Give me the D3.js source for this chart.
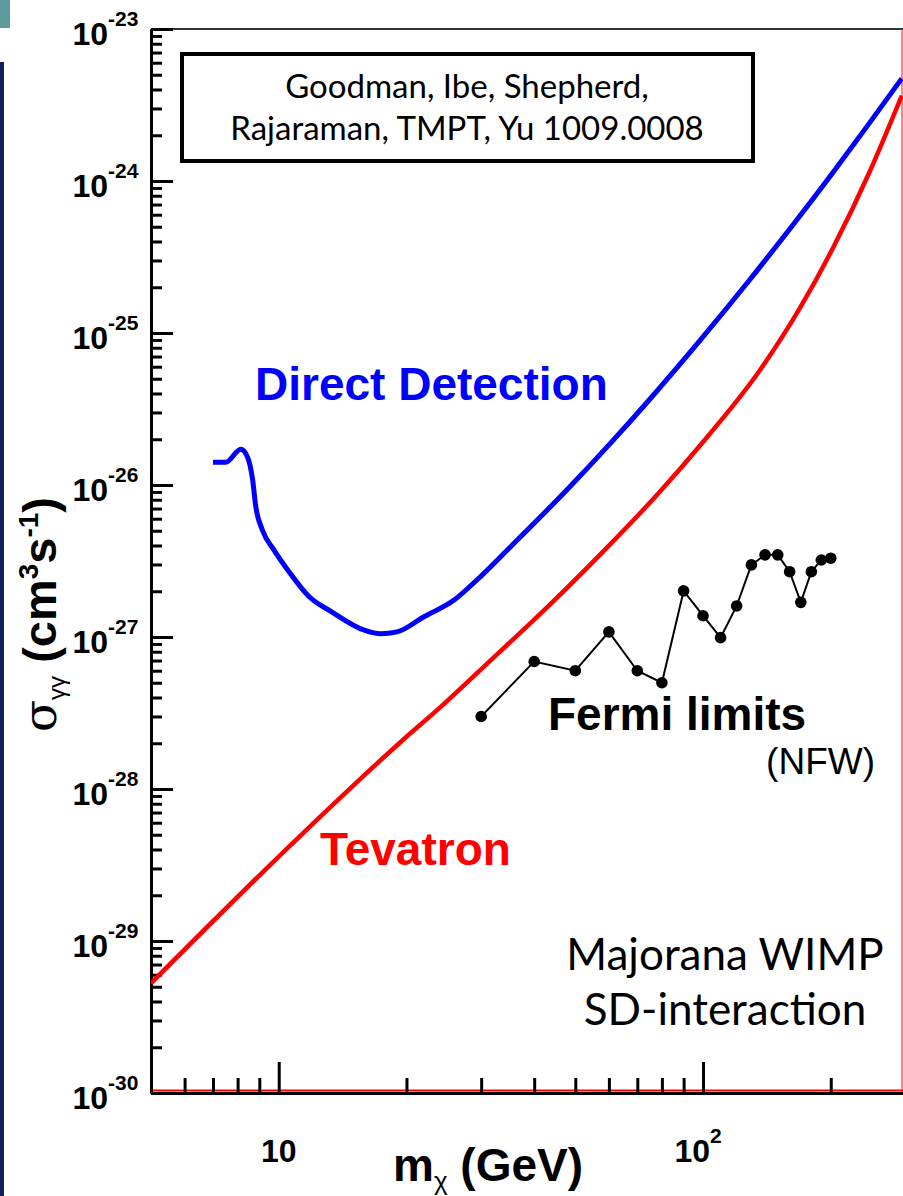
<!DOCTYPE html>
<html>
<head>
<meta charset="utf-8">
<script src="https://cdn.jsdelivr.net/npm/d3@7"></script>
<style>
  body { margin: 0; background: #fff; }
  svg { display: block; }
  .bold { font-family: "Liberation Sans", Arial, sans-serif; font-weight: bold; }
  .gill { font-family: Lato, "Open Sans", sans-serif; }
</style>
</head>
<body>
<div id="chart"></div>
<script>
// Data ======================================================
// Direct detection curve (blue)
var massBlue = [7.0, 7.5, 8.14, 8.44, 8.68, 8.83, 9.15, 9.75, 10.5, 11.8, 13.3, 15.9, 17.4, 19.0, 22.0, 25.9, 29.3, 35.2, 47.8, 60.4, 75, 98.4, 129, 163, 202, 243, 294];
var sigmaBlue = [1.41e-26, 1.41e-26, 1.72e-26, 1.53e-26, 1.08e-26, 7.2e-27, 5.06e-27, 3.73e-27, 2.76e-27, 1.84e-27, 1.47e-27, 1.11e-27, 1.05e-27, 1.08e-27, 1.36e-27, 1.75e-27, 2.37e-27, 3.93e-27, 9.3e-27, 1.87e-26, 3.68e-26, 8.94e-26, 2.25e-25, 5.15e-25, 1.13e-24, 2.27e-24, 4.72e-24];

// Tevatron curve (red)
var massRed = [5.0, 11.1, 19.5, 24.6, 29.5, 35.3, 39.9, 57.2, 79.2, 98.4, 136, 169, 203, 247, 294];
var sigmaRed = [5.27e-30, 4.76e-29, 2.07e-28, 3.66e-28, 5.87e-28, 9.38e-28, 1.29e-27, 3.48e-27, 9.05e-27, 1.82e-26, 5.66e-26, 1.45e-25, 3.68e-25, 1.15e-24, 3.64e-24];

// Fermi limits (NFW)
var massFermi = [30, 40, 50, 60, 70, 80, 90, 100, 110, 120, 130, 140, 150, 160, 170, 180, 190, 200];
var sigmaFermi = [3.0e-28, 6.9e-28, 6.0e-28, 1.08e-27, 6.0e-28, 5.0e-28, 2.01e-27, 1.38e-27, 9.9e-28, 1.6e-27, 2.98e-27, 3.47e-27, 3.47e-27, 2.69e-27, 1.69e-27, 2.69e-27, 3.21e-27, 3.30e-27];

// Tick values
var yMajorExp = [-30, -29, -28, -27, -26, -25, -24, -23];
var yMinorMult = [2, 3, 4, 5, 6, 7, 8, 9];
var xMajorTicks = [10, 100];
var xMajorLabels = [["10", ""], ["10", "2"]];
var xMinorTicks = [6, 7, 8, 9, 20, 30, 40, 50, 60, 70, 80, 90, 200];

// Canvas ======================================================
var width = 903;
var height = 1196;

// plot area edges
var plotLeft = 151, plotRight = 903, plotTop = 29, plotBottom = 1093;

var svg = d3.select("#chart")
    .append("svg")
    .attr("width", width)
    .attr("height", height);

// slide decoration on the left edge
svg.append("rect").attr("x", 0).attr("y", 0).attr("width", 10).attr("height", 28).attr("fill", "#5e9c9c");
svg.append("rect").attr("x", 0).attr("y", 62).attr("width", 4).attr("height", height - 62).attr("fill", "#0c1f5e");

// Scales
var xScale = d3.scaleLog().domain([5, 296]).range([plotLeft, plotRight]);
var yScale = d3.scaleLog().domain([1e-30, 1e-23]).range([plotBottom, plotTop]);

// frame lines (top grey, right and bottom red)
svg.append("line")
    .attr("x1", plotLeft).attr("x2", plotRight).attr("y1", plotTop).attr("y2", plotTop)
    .attr("stroke", "#333").attr("stroke-width", 2);
svg.append("line")
    .attr("x1", plotRight - 1).attr("x2", plotRight - 1).attr("y1", plotTop).attr("y2", plotBottom)
    .attr("stroke", "#ff3333").attr("stroke-width", 1.2);
svg.append("line")
    .attr("x1", plotLeft).attr("x2", plotRight).attr("y1", plotBottom - 2.5).attr("y2", plotBottom - 2.5)
    .attr("stroke", "#ff0000").attr("stroke-width", 2);

// Axes ========================================================
var yMinorTicks = [];
yMajorExp.slice(0, -1).forEach(function(e) {
  yMinorMult.forEach(function(k) { yMinorTicks.push(k * Math.pow(10, e)); });
});
var yMajorTicks = yMajorExp.map(function(e) { return Math.pow(10, e); });

function styleAxis(g) {
  g.selectAll("path").attr("stroke", "#000").attr("stroke-width", 3);
  g.selectAll("line").attr("stroke", "#000").attr("stroke-width", 3);
}

// y axis, ticks inward
svg.append("g")
    .attr("transform", `translate(${plotLeft}, 0)`)
    .call(d3.axisRight(yScale).tickValues(yMinorTicks).tickSize(11).tickSizeOuter(0).tickFormat(""))
    .call(styleAxis);
svg.append("g")
    .attr("transform", `translate(${plotLeft}, 0)`)
    .call(d3.axisRight(yScale).tickValues(yMajorTicks).tickSize(22).tickSizeOuter(0).tickFormat(""))
    .call(styleAxis);

// x axis at bottom, ticks pointing up
svg.append("g")
    .attr("transform", `translate(0, ${plotBottom})`)
    .call(d3.axisTop(xScale).tickValues(xMinorTicks).tickSize(15).tickSizeOuter(0).tickFormat(""))
    .call(styleAxis);
svg.append("g")
    .attr("transform", `translate(0, ${plotBottom})`)
    .call(d3.axisTop(xScale).tickValues(xMajorTicks).tickSize(31).tickSizeOuter(0).tickFormat(""))
    .call(styleAxis);

// y tick labels 10^e
yMajorExp.forEach(function(e) {
  var y = yScale(Math.pow(10, e));
  svg.append("text").attr("class", "bold")
      .attr("x", 108).attr("y", y + 16)
      .attr("text-anchor", "end").attr("font-size", 32)
      .text("10");
  svg.append("text").attr("class", "bold")
      .attr("x", 108).attr("y", y - 3)
      .attr("font-size", 21)
      .text(e);
});

// x tick labels
xMajorTicks.forEach(function(v, i) {
  var x = xScale(v);
  var lab = xMajorLabels[i];
  if (lab[1] === "") {
    svg.append("text").attr("class", "bold")
        .attr("x", x).attr("y", 1162)
        .attr("text-anchor", "middle").attr("font-size", 32)
        .text(lab[0]);
  } else {
    svg.append("text").attr("class", "bold")
        .attr("x", x + 7).attr("y", 1162)
        .attr("text-anchor", "end").attr("font-size", 32)
        .text(lab[0]);
    svg.append("text").attr("class", "bold")
        .attr("x", x + 7).attr("y", 1143)
        .attr("font-size", 21)
        .text(lab[1]);
  }
});

// Axis titles
var xTitle = svg.append("text").attr("class", "bold")
    .attr("x", 393).attr("y", 1181).attr("font-size", 46);
xTitle.append("tspan").text("m");
xTitle.append("tspan").attr("font-size", 26).attr("font-weight", "normal").attr("dy", 9).text("χ");
xTitle.append("tspan").attr("dy", -9).text(" (GeV)");

var yTitle = svg.append("text").attr("class", "bold")
    .attr("transform", "translate(56, 732) rotate(-90)")
    .attr("font-size", 47);
yTitle.append("tspan").attr("font-weight", "normal").attr("font-family", "'DejaVu Serif', serif").text("σ");
yTitle.append("tspan").attr("font-size", 24).attr("font-weight", "normal").attr("dy", 9).text("γγ");
yTitle.append("tspan").attr("dy", -9).text(" (cm");
yTitle.append("tspan").attr("font-size", 28).attr("dy", -18).text("3");
yTitle.append("tspan").attr("dy", 18).text("s");
yTitle.append("tspan").attr("font-size", 28).attr("dy", -18).text("-1");
yTitle.append("tspan").attr("dy", 18).text(")");

// Curves ======================================================
svg.append("clipPath").attr("id", "plotClip")
  .append("rect").attr("x", plotLeft).attr("y", plotTop)
  .attr("width", plotRight - plotLeft).attr("height", plotBottom - plotTop);

var lineGen = d3.line()
    .x(function(d) { return xScale(d[0]); })
    .y(function(d) { return yScale(d[1]); })
    .curve(d3.curveMonotoneX);

var plot = svg.append("g").attr("clip-path", "url(#plotClip)");

plot.append("path")
    .datum(d3.zip(massRed, sigmaRed))
    .attr("d", lineGen)
    .attr("fill", "none")
    .attr("stroke", "#ff0000")
    .attr("stroke-width", 4.5);

plot.append("path")
    .datum(d3.zip(massBlue, sigmaBlue))
    .attr("d", lineGen)
    .attr("fill", "none")
    .attr("stroke", "#0000ff")
    .attr("stroke-width", 5);

var fermiLine = d3.line()
    .x(function(d) { return xScale(d[0]); })
    .y(function(d) { return yScale(d[1]); });

plot.append("path")
    .datum(d3.zip(massFermi, sigmaFermi))
    .attr("d", fermiLine)
    .attr("fill", "none")
    .attr("stroke", "#000")
    .attr("stroke-width", 2);

plot.selectAll("circle.fermi")
    .data(d3.zip(massFermi, sigmaFermi))
    .enter()
    .append("circle")
    .attr("class", "fermi")
    .attr("cx", function(d) { return xScale(d[0]); })
    .attr("cy", function(d) { return yScale(d[1]); })
    .attr("r", 5.8)
    .attr("fill", "#000");

// Reference box ===============================================
svg.append("rect")
    .attr("x", 182).attr("y", 54).attr("width", 571).attr("height", 107)
    .attr("fill", "#fff").attr("stroke", "#000").attr("stroke-width", 4);
svg.append("text").attr("class", "gill")
    .attr("x", 467).attr("y", 98).attr("text-anchor", "middle").attr("font-size", 33)
    .text("Goodman, Ibe, Shepherd,");
svg.append("text").attr("class", "gill")
    .attr("x", 467).attr("y", 140).attr("text-anchor", "middle").attr("font-size", 33)
    .text("Rajaraman, TMPT, Yu  1009.0008");

// Curve labels ================================================
svg.append("text").attr("class", "bold")
    .attr("x", 255).attr("y", 400).attr("font-size", 46).attr("fill", "#0000ff")
    .text("Direct Detection");
svg.append("text").attr("class", "bold")
    .attr("x", 320).attr("y", 865).attr("font-size", 46).attr("fill", "#ff0000")
    .text("Tevatron");
svg.append("text").attr("class", "bold")
    .attr("x", 548).attr("y", 730).attr("font-size", 46).attr("fill", "#000")
    .text("Fermi limits");
svg.append("text")
    .attr("x", 875).attr("y", 774).attr("text-anchor", "end")
    .attr("font-family", "'Liberation Sans', Arial, sans-serif").attr("font-size", 37)
    .text("(NFW)");

svg.append("text").attr("class", "gill")
    .attr("x", 725).attr("y", 970).attr("text-anchor", "middle").attr("font-size", 44)
    .text("Majorana WIMP");
svg.append("text").attr("class", "gill")
    .attr("x", 725).attr("y", 1025).attr("text-anchor", "middle").attr("font-size", 44)
    .text("SD-interaction");
</script>
</body>
</html>
